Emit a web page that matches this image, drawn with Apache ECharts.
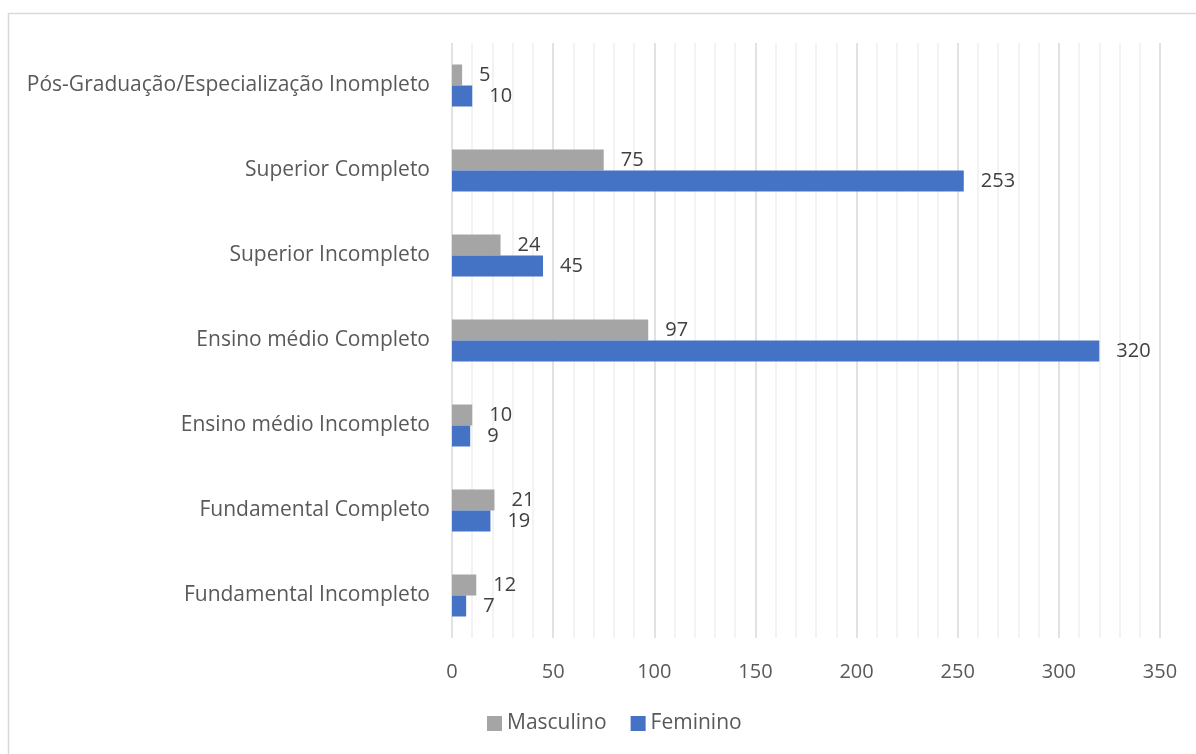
<!DOCTYPE html>
<html>
<head>
<meta charset="utf-8">
<script src="https://cdn.jsdelivr.net/npm/echarts@6/dist/echarts.min.js"></script>
<style>
html,body{margin:0;padding:0;background:#fff;}
#chart{width:1196px;height:754px;}
</style>
</head>
<body>
<div id="chart"></div>
<script>
const categories = [
  "Fundamental Incompleto",
  "Fundamental Completo",
  "Ensino médio Incompleto",
  "Ensino médio Completo",
  "Superior Incompleto",
  "Superior Completo",
  "Pós-Graduação/Especialização Inompleto"
];
const masculino = [12, 21, 10, 97, 24, 75, 5];
const feminino = [7, 19, 9, 320, 45, 253, 10];
const seriesNames = ["Masculino", "Feminino"];

const font = "'Open Sans', 'Noto Sans', sans-serif";
const chart = echarts.init(document.getElementById('chart'));
const labelStyle = { show: true, position: 'right', distance: 17, fontFamily: font, fontSize: 20, color: '#404040' };
chart.setOption({
  animation: false,
  backgroundColor: '#fff',
  textStyle: { fontFamily: font },
  graphic: [{
    type: 'rect',
    shape: { x: 8.5, y: 13.5, width: 1300, height: 900 },
    style: { fill: 'none', stroke: '#d9d9d9', lineWidth: 1.5 },
    silent: true
  }],
  grid: { left: 452, right: 36, top: 43, bottom: 116, containLabel: false },
  legend: {
    data: seriesNames,
    bottom: 15,
    left: 482,
    itemWidth: 15,
    itemHeight: 15,
    itemGap: 24,
    icon: 'rect',
    textStyle: { fontFamily: font, fontSize: 21, color: '#595959' }
  },
  xAxis: {
    type: 'value',
    min: 0,
    max: 350,
    interval: 50,
    axisLine: { show: false },
    axisTick: { show: false },
    axisLabel: { fontFamily: font, fontSize: 20, color: '#595959', margin: 24 },
    splitLine: { show: true, lineStyle: { color: '#d9d9d9', width: 1.5 } },
    minorTick: { show: false, splitNumber: 5 },
    minorSplitLine: { show: true, lineStyle: { color: '#f0f0f0', width: 1.5 } }
  },
  yAxis: {
    type: 'category',
    data: categories,
    axisLine: { show: false },
    axisTick: { show: false },
    axisLabel: { fontFamily: font, fontSize: 21, color: '#595959', margin: 22 }
  },
  series: [
    {
      name: seriesNames[0],
      type: 'bar',
      data: masculino,
      barWidth: 21,
      barGap: '0%',
      itemStyle: { color: '#a5a5a5' },
      label: labelStyle
    },
    {
      name: seriesNames[1],
      type: 'bar',
      data: feminino,
      barWidth: 21,
      barGap: '0%',
      itemStyle: { color: '#4472c4' },
      label: labelStyle
    }
  ]
});
</script>
</body>
</html>
